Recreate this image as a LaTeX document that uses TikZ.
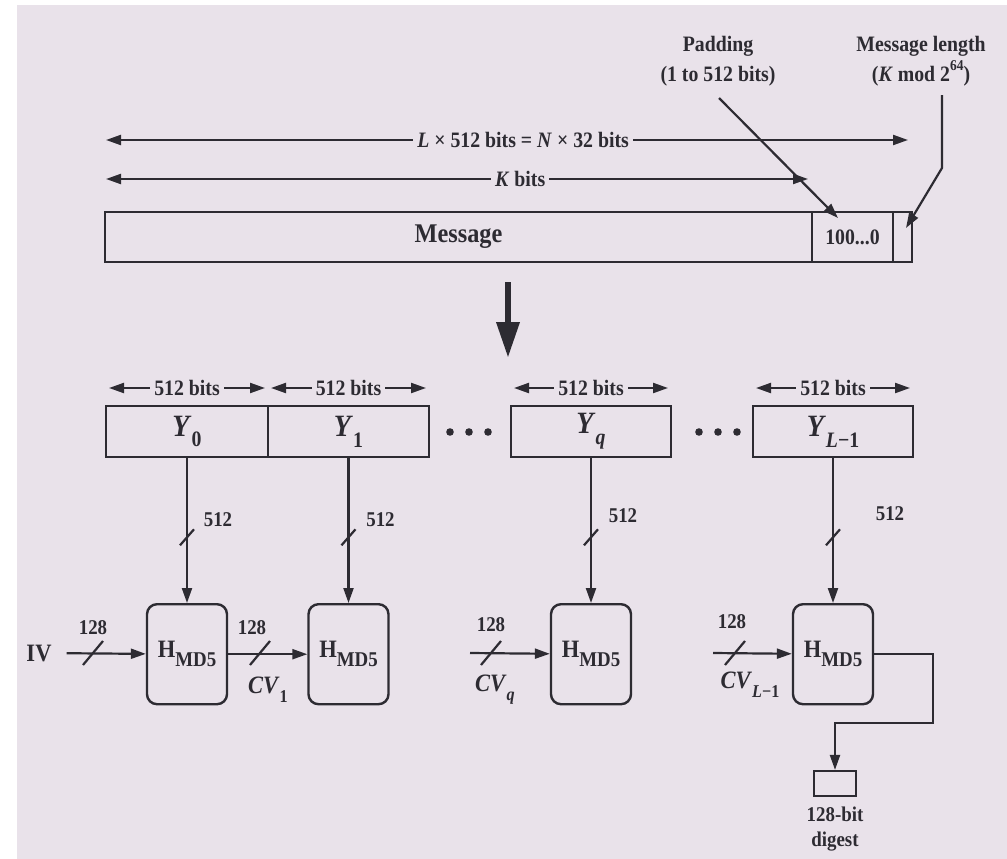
\documentclass[tikz,border=0pt]{standalone}
\usepackage{fontspec}
\setmainfont{Liberation Serif}[FakeStretch=0.9]
\usepackage{tikz}
\usetikzlibrary{positioning,arrows.meta,calc}

\definecolor{paper}{RGB}{233,226,234}
\definecolor{ink}{RGB}{45,43,50}
\newcommand{\lowsub}[2][17]{\raisebox{-0.35em}{\fontsize{#1}{#1}\selectfont #2}}

\tikzset{
  cell/.style={draw=ink, line width=2.2pt, inner sep=0pt, outer sep=0pt, minimum height=50pt},
  block/.style={draw=ink, line width=2.2pt, inner sep=0pt, outer sep=0pt, minimum height=51pt,
    minimum width=161pt, font=\fontsize{31}{31}\selectfont\bfseries},
  hbox/.style={draw=ink, line width=2.4pt, rounded corners=10pt, minimum width=80pt,
    minimum height=100pt, inner sep=0pt, font=\fontsize{25}{25}\selectfont\bfseries},
  onwire/.style={fill=paper, inner sep=4pt},
  cvlbl/.style={font=\fontsize{25}{25}\selectfont\bfseries},
}

\begin{document}
\begin{tikzpicture}[x=1pt, y=-1pt, color=ink, line width=2.2pt,
    font=\fontsize{22}{26}\selectfont\bfseries,
    >={Triangle[length=15pt,width=10pt]}]
  \useasboundingbox (0,0) rectangle (1007,859);
  \fill[white] (0,0) rectangle (1007,859);
  \fill[paper] (17,5) rectangle (1007,859);

  % padded message
  \node[cell, minimum width=707pt, font=\fontsize{27}{27}\selectfont\bfseries] (msg) at (458.5,237) {Message};
  \node[cell, minimum width=81pt] (pad) at (852.5,237) {100...0};
  \node[cell, minimum width=19pt] (len) at (902.5,237) {};

  \coordinate (lA) at (106,140);
  \coordinate (lB) at (908,140);
  \coordinate (kA) at (106,179);
  \coordinate (kB) at (808,179);
  \draw[<->] (lA) -- node[onwire, pos=0.52] (ltxt) {\textit{L} × 512 bits = \textit{N} × 32 bits} (lB);
  \draw[<->] (kA) -- node[onwire, pos=0.59] (ktxt) {\textit{K} bits} (kB);

  \node[align=center, font=\fontsize{22}{30}\selectfont\bfseries] (padlbl) at (718,61) {Padding\\(1 to 512 bits)};
  \node[align=center, font=\fontsize{22}{30}\selectfont\bfseries] (lenlbl) at (921,61)
    {Message length\\(\textit{K} mod 2\raisebox{0.5em}{\fontsize{15}{15}\selectfont 64})};
  \coordinate (padtail) at (719,98);
  \coordinate (padtip) at (838,218);
  \draw[->] (padtail) -- (padtip);
  \coordinate (lentail) at (942,95);
  \coordinate (lentip) at (906,228);
  \draw[->] (lentail) -- (942,168) -- (lentip);

  % big arrow
  \coordinate (bigtop) at (508,282);
  \coordinate (bigtip) at (508,358);
  \draw[line width=6.5pt, -{Triangle[length=36pt,width=22pt]}] (bigtop) -- (bigtip);

  % message blocks
  \node[block, minimum width=162pt] (y0) at (187,431.5) {\textit{Y}\lowsub[22]{0}};
  \node[block, right=0pt of y0] (y1) {\textit{Y}\lowsub[22]{1}};
  \node[block, minimum width=160pt] (yq) at (591,431.5) {\textit{Y}\lowsub[22]{\textit{q}}};
  \node[block, minimum width=160pt] (yl) at (833,431.5) {\textit{Y}\lowsub[22]{\textit{L}−1}};
  \foreach \cx in {469,718}
    \foreach \d in {-19,0,19}
      \fill (\cx+\d,432) circle (3.8pt);
  \foreach \b in {y0,y1,yq,yl}
    \draw[<->] ([xshift=3pt,yshift=18pt]\b.north west) -- node[onwire] {512 bits} ([xshift=-3pt,yshift=18pt]\b.north east);

  % compression stages
  \node[hbox, below=146pt of y0] (h0) {H\lowsub[21]{MD5}};
  \node[hbox, below=146pt of y1] (h1) {H\lowsub[21]{MD5}};
  \node[hbox, below=146pt of yq] (h2) {H\lowsub[21]{MD5}};
  \node[hbox, below=146pt of yl] (h3) {H\lowsub[21]{MD5}};

  \foreach \b/\h/\dx/\dy in {y0/h0/31/-18, y1/h1/32/-18, yq/h2/32/-22, yl/h3/57/-24} {
    \draw[->] (\b.south) -- (\h.north);
    \draw ($(\b.south)!0.55!(\h.north)$) coordinate (s\h) ++(-7,8) -- ++(14,-16);
    \node[font=\fontsize{21}{21}\selectfont\bfseries] (w\h) at ($(s\h)+(\dx,\dy)$) {512};
  }

  \node[cvlbl, inner xsep=14pt] (iv) at (39,653) {IV};
  \coordinate (cq) at (470,653);
  \coordinate (cl) at (713,653);
  \draw[->] (iv) -- (h0);
  \draw[->] (h0) -- (h1);
  \draw[->] (cq) -- (h2);
  \draw[->] (cl) -- (h3);
  \foreach \sx/\lx/\ly/\nm in {93/93/628/a, 260/252/628/b, 491/491/625/c, 735/732/622/d} {
    \draw (\sx,653) ++(-10,12) -- ++(20,-24);
    \node[font=\fontsize{21}{21}\selectfont\bfseries] (k\nm) at (\lx,\ly) {128};
  }
  \node[cvlbl] (cv1) at (268,690) {\textit{CV}\lowsub[18]{1}};
  \node[cvlbl] (cvq) at (495,690) {\textit{CV}\lowsub[18]{\textit{q}}};
  \node[cvlbl] (cvl) at (750,685) {\textit{CV}\lowsub[18]{\textit{L}−1}};

  % digest
  \node[draw, line width=2.2pt, inner sep=0pt, minimum width=42pt, minimum height=25pt] (dig) at (835,783.5) {};
  \node[align=center, font=\fontsize{21}{25}\selectfont\bfseries, below=5pt of dig] (diglbl) {128-bit\\digest};
  \draw[->] (h3.east) -- ++(59,0) -- ++(0,69) -| (dig.north);
\end{tikzpicture}
\end{document}
